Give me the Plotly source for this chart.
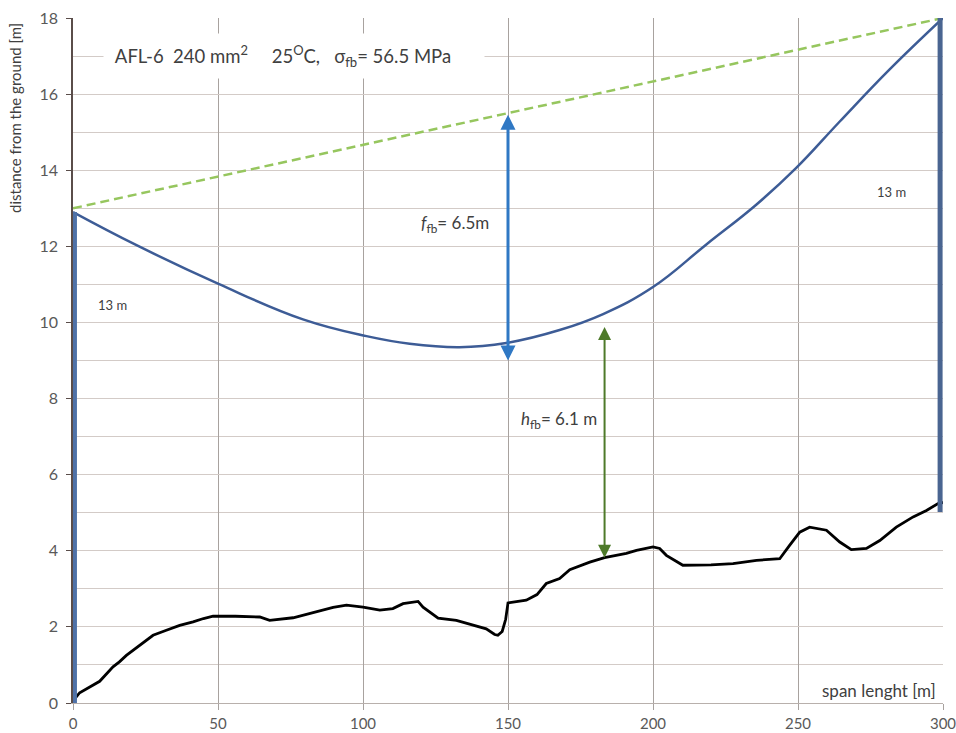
import plotly.graph_objects as go

# Ground profile along the span [m]
ground_x = [0, 1.0, 2.3, 5.5, 9.2, 13.8, 16, 18.4, 23, 27.6, 32.2, 36.8, 41.4, 45, 48.3,
            56, 64.4, 67.8, 75.9, 82.8, 89.7, 94.3, 100, 105.8, 110.3, 113.8, 119, 120.7,
            125.9, 132.2, 137.9, 142.5, 145.4, 146.5, 148, 149.2, 150, 156.3, 160, 163.2,
            167.8, 171.3, 178.2, 183.3, 190.8, 194.3, 200, 202.3, 204.6, 210.3, 220, 227.6,
            235.7, 243.7, 247.1, 250.6, 254, 259.8, 264.4, 268.4, 273.6, 278.2, 283.9,
            289.7, 294.3, 298.3, 300]
ground_y = [0.0, 0.15, 0.27, 0.40, 0.57, 0.95, 1.08, 1.25, 1.52, 1.78, 1.91, 2.04, 2.13, 2.22, 2.28,
            2.28, 2.26, 2.17, 2.24, 2.37, 2.51, 2.57, 2.52, 2.44, 2.48, 2.61, 2.67, 2.52,
            2.23, 2.17, 2.04, 1.95, 1.80, 1.78, 1.88, 2.20, 2.63, 2.70, 2.85, 3.14,
            3.27, 3.50, 3.70, 3.82, 3.93, 4.01, 4.10, 4.06, 3.88, 3.62, 3.63, 3.66,
            3.75, 3.79, 4.14, 4.49, 4.62, 4.54, 4.23, 4.03, 4.06, 4.27, 4.62,
            4.89, 5.06, 5.24, 5.27]

# Conductor sag curve
cond_x = [0, 21.9, 50, 79.3, 101.2, 116.1, 133.3, 149.4, 167.8, 182.8, 200, 218.4,
          235.7, 249.4, 264.4, 281.6, 300]
cond_y = [12.9, 12.03, 11.02, 10.08, 9.64, 9.44, 9.35, 9.46, 9.80, 10.22, 10.93, 12.05,
          13.10, 14.06, 15.28, 16.65, 18.0]

# Straight chord between the suspension points
chord_x = [0, 300]
chord_y = [13, 18]

# Towers (x position, bottom, top)
left_tower_x = [0.5, 0.5]
left_tower_y = [0, 12.9]
right_tower_x = [299, 299]
right_tower_y = [5.02, 18]

# Dimension values
f_fb = 6.5
h_fb = 6.1
f_x = 150
h_x = 183.3
h_ground = 3.82

x_ticks = [0, 50, 100, 150, 200, 250, 300]
y_ticks = [0, 2, 4, 6, 8, 10, 12, 14, 16, 18]

FONT = "Lato"
TXT = "#404040"

fig = go.Figure()

fig.add_trace(go.Scatter(x=chord_x, y=chord_y, mode="lines",
                         line=dict(color="#96c65e", width=2.5, dash="9px,5px"),
                         hoverinfo="skip"))
fig.add_trace(go.Scatter(x=cond_x, y=cond_y, mode="lines",
                         line=dict(color="#3d5c96", width=2.5, shape="spline", smoothing=1.2),
                         hoverinfo="skip"))
fig.add_trace(go.Scatter(x=ground_x, y=ground_y, mode="lines",
                         line=dict(color="#000000", width=2.8),
                         hoverinfo="skip"))
fig.add_trace(go.Scatter(x=left_tower_x, y=left_tower_y, mode="lines",
                         line=dict(color="#4f72a8", width=5), hoverinfo="skip"))
fig.add_trace(go.Scatter(x=right_tower_x, y=right_tower_y, mode="lines",
                         line=dict(color="#4a6591", width=5), hoverinfo="skip"))

# Chord-to-conductor distance (blue) and conductor-to-ground clearance (green)
f_top = chord_y[0] + (chord_y[1] - chord_y[0]) * f_x / (chord_x[1] - chord_x[0])
fig.add_annotation(x=f_x, y=f_top - f_fb, ax=f_x, ay=f_top, xref="x", yref="y",
                   axref="x", ayref="y", text="", showarrow=True, arrowhead=2,
                   arrowside="end+start", arrowsize=1.0, arrowwidth=3,
                   arrowcolor="#2f78c4", standoff=0, startstandoff=0)
fig.add_annotation(x=h_x, y=h_ground, ax=h_x, ay=h_ground + h_fb, xref="x", yref="y",
                   axref="x", ayref="y", text="", showarrow=True, arrowhead=2,
                   arrowside="end+start", arrowsize=1.3, arrowwidth=2,
                   arrowcolor="#4e7a2a", standoff=0, startstandoff=0)

NB = "\u00a0"
header = (f"AFL-6{NB*2}240{NB}mm<sup>2</sup>{NB*5}25<sup>O</sup>C,{NB*3}"
          f"σ<sub>fb</sub>= 56.5 MPa")
fig.add_annotation(x=10.3, y=17, xref="x", yref="y", xanchor="left", yanchor="middle",
                   text=NB * 2 + header, showarrow=False, align="left",
                   width=376, height=40, bgcolor="white", borderpad=2,
                   font=dict(family=FONT, size=18.5, color=TXT))

fig.add_annotation(x=131.6, y=12.6, xref="x", yref="y", showarrow=False,
                   text=f"<i>f</i><sub>fb</sub>= {f_fb}m",
                   font=dict(family=FONT, size=17, color=TXT))
fig.add_annotation(x=167.5, y=7.43, xref="x", yref="y", showarrow=False,
                   text=f"<i>h</i><sub>fb</sub>= {h_fb} m",
                   font=dict(family=FONT, size=17, color=TXT))

fig.add_annotation(x=13.7, y=10.45, xref="x", yref="y", showarrow=False,
                   text="13 m", font=dict(family=FONT, size=13, color=TXT))
fig.add_annotation(x=282.2, y=13.43, xref="x", yref="y", showarrow=False,
                   text="13 m", font=dict(family=FONT, size=13, color=TXT))

fig.add_annotation(x=298.4, y=0.33, xref="x", yref="y", xanchor="right", yanchor="middle",
                   showarrow=False, text="span lenght [m]",
                   font=dict(family=FONT, size=17, color=TXT))

# Vertical axis title, placed near the top of the axis
fig.add_annotation(x=-0.0667, y=0.854, xref="paper", yref="paper", showarrow=False,
                   xanchor="center", yanchor="middle",
                   text="distance from the ground [m]", textangle=-90,
                   font=dict(family=FONT, size=15, color=TXT))

fig.update_layout(
    width=956, height=733,
    margin=dict(l=73, r=13, t=18, b=30, autoexpand=False),
    paper_bgcolor="white", plot_bgcolor="white",
    showlegend=False,
    font=dict(family=FONT, color="#595959"),
)
fig.update_xaxes(range=[0, 300], tickvals=x_ticks, ticktext=[str(v) for v in x_ticks],
                 automargin=False,
                 showgrid=True, gridcolor="#a8a29f", gridwidth=1,
                 showline=True, linecolor="#b8b0ac", linewidth=1,
                 ticks="outside", ticklen=6, tickcolor="#a8a29f",
                 ticklabeloverflow="allow", ticklabelstandoff=1,
                 zeroline=False, tickfont=dict(family=FONT, size=15, color="#595959"))
fig.update_yaxes(range=[0, 18], tickvals=y_ticks, ticktext=[str(v) for v in y_ticks],
                 automargin=False,
                 showgrid=True, gridcolor="#d3cbc7", gridwidth=1,
                 minor=dict(dtick=1, tick0=0, showgrid=True, gridcolor="#d3cbc7", gridwidth=1),
                 showline=True, linecolor="#5a4d4a", linewidth=1.5,
                 ticks="outside", ticklen=5, tickcolor="#5a4d4a",
                 ticklabelstandoff=5,
                 zeroline=False, tickfont=dict(family=FONT, size=16, color="#595959"))

fig.write_html("out.html")
